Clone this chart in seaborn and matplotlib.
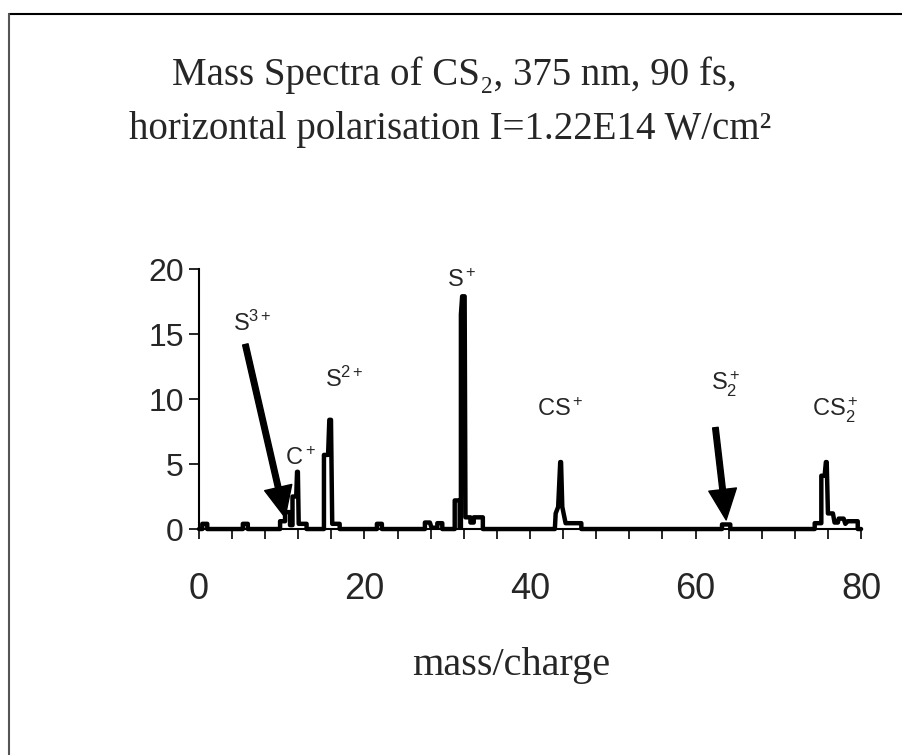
import pandas as pd
import matplotlib.pyplot as plt
import matplotlib.lines as mlines
from matplotlib import font_manager
import seaborn as sns

# espectro (massa/carga, sinal)
mass_charge = [0.0, 0.4, 0.4, 1.0, 1.0, 5.3, 5.3, 5.9, 5.9, 9.8, 9.8, 10.4, 10.4, 11.0, 11.0,
               11.3, 11.3, 11.75, 11.85, 11.95, 12.05, 13.0, 13.0, 15.1, 15.1, 15.6, 15.75, 15.95,
               16.1, 17.0, 17.0, 21.5, 21.5, 22.1, 22.1, 27.3, 27.3, 27.9, 28.1, 28.8, 28.8,
               29.4, 29.4, 30.9, 30.9, 31.5, 31.5, 31.65, 31.65, 31.8, 32.1, 32.2, 32.8, 32.8,
               33.2, 33.2, 34.3, 34.3, 43.0, 43.1, 43.4, 43.65, 43.75, 43.9, 44.3, 46.2, 46.2,
               63.2, 63.2, 64.2, 64.2, 74.4, 74.4, 75.2, 75.2, 75.6, 75.75, 75.85, 76.0, 76.6,
               76.8, 77.2, 77.3, 77.9, 78.1, 78.4, 79.6, 79.6, 80.0]
signal = [0.0, 0.0, 0.4, 0.4, 0.0, 0.0, 0.4, 0.4, 0.0, 0.0, 0.6, 0.6, 1.3, 1.3, 0.3,
          0.3, 2.5, 2.5, 4.4, 4.4, 0.4, 0.4, 0.0, 0.0, 5.7, 5.7, 8.4, 8.4,
          0.4, 0.4, 0.0, 0.0, 0.4, 0.4, 0.0, 0.0, 0.5, 0.5, 0.1, 0.1, 0.45,
          0.45, 0.0, 0.0, 2.2, 2.2, 0.1, 0.1, 16.5, 17.9, 17.9, 0.9, 0.9, 0.5,
          0.5, 0.9, 0.9, 0.0, 0.0, 1.2, 1.7, 5.15, 5.15, 1.7, 0.45, 0.45, 0.0,
          0.0, 0.35, 0.35, 0.0, 0.0, 0.45, 0.45, 4.1, 4.1, 5.15, 5.15, 1.2, 1.2,
          0.5, 0.5, 0.8, 0.8, 0.4, 0.6, 0.6, 0.0, 0.0]

# rótulos dos picos
ion_labels = ['S$^+$', 'S$^{3+}$', 'S$^{2+}$', 'C$^+$', 'CS$^+$', 'S$_2^+$', 'CS$_2^+$']
label_x = [31.7, 6.4, 17.6, 12.3, 43.6, 63.6, 76.9]
label_y = [19.15, 15.8, 11.5, 5.4, 9.2, 11.1, 9.15]

# setas (início -> ponta)
arrow_from = [(5.6, 14.2), (62.4, 7.8)]
arrow_to = [(10.4, 0.9), (63.7, 0.7)]

x_ticks = list(range(0, 81, 4))
x_ticklabels = [str(t) if t % 20 == 0 else '' for t in x_ticks]
y_ticks = [0, 5, 10, 15, 20]

sns.set_style('white')
nomes = {f.name for f in font_manager.fontManager.ttflist}
sans = 'Liberation Sans Narrow' if 'Liberation Sans Narrow' in nomes else 'Liberation Sans'
plt.rcParams['font.family'] = [sans, 'DejaVu Sans']
plt.rcParams['mathtext.fontset'] = 'custom'
plt.rcParams['mathtext.rm'] = sans
plt.rcParams['mathtext.it'] = sans
plt.rcParams['mathtext.default'] = 'rm'

dados = pd.DataFrame({'mz': mass_charge, 'sinal': signal})

fig = plt.figure(figsize=(9.02, 7.55), dpi=100)
ax = fig.add_axes([0.2206, 0.2993, 0.734, 0.3444])
sns.lineplot(data=dados, x='mz', y='sinal', sort=False, estimator=None,
             color='black', lw=3.2, ax=ax, clip_on=False)

ax.set_xlim(0, 80)
ax.set_ylim(0, 20)
ax.set_xticks(x_ticks)
ax.set_xticklabels(x_ticklabels)
ax.set_yticks(y_ticks)
ax.tick_params(axis='x', direction='out', length=7, width=1.4, pad=24, labelsize=26)
ax.tick_params(axis='y', direction='out', length=7, width=1.4, pad=4, labelsize=23)
ax.tick_params(bottom=True, left=True)
for s in ['top', 'right']:
    ax.spines[s].set_visible(False)
for s in ['left', 'bottom']:
    ax.spines[s].set_linewidth(1.5)
    ax.spines[s].set_color('black')
ax.set_xlabel('')
ax.set_ylabel('')

for txt, lx, ly in zip(ion_labels, label_x, label_y):
    ax.text(lx, ly, txt, fontsize=17, ha='center', va='center')

for a, b in zip(arrow_from, arrow_to):
    ax.annotate('', xy=b, xytext=a,
                arrowprops=dict(facecolor='black', edgecolor='black', width=4,
                                headwidth=20, headlength=22, shrink=0))

serif = ['Liberation Serif', 'DejaVu Serif']
fig.text(0.504, 0.9007, 'Mass Spectra of CS\u2082, 375 nm, 90 fs,', family=serif,
         fontsize=28, ha='center', va='center')
fig.text(0.499, 0.828, 'horizontal polarisation I=1.22E14 W/cm\u00b2', family=serif,
         fontsize=28, ha='center', va='center')
fig.text(0.567, 0.118, 'mass/charge', family=serif, fontsize=29, ha='center', va='center')

# moldura (só topo e esquerda aparecem)
fig.add_artist(mlines.Line2D([0.01, 1.0], [0.982, 0.982], color='black', lw=1.5))
fig.add_artist(mlines.Line2D([0.01, 0.01], [0.0, 0.982], color='#555555', lw=1.5))

fig.savefig('out.png', dpi=100)
